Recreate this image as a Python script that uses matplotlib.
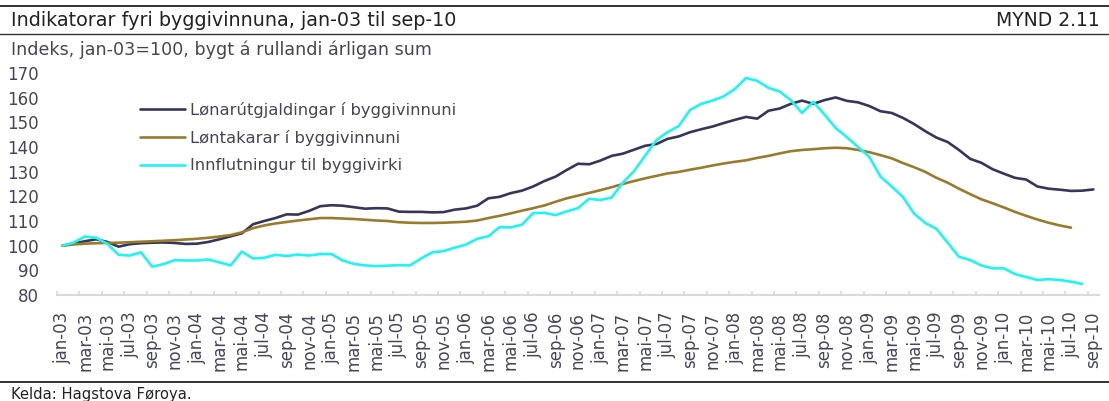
import matplotlib
matplotlib.use("Agg")
import matplotlib.pyplot as plt
from matplotlib.lines import Line2D

# month labels (faroese), jan-03 .. sep-10
month_names = ["jan", "feb", "mar", "apr", "mai", "jun", "jul", "aug", "sep", "okt", "nov", "des"]
years = ["03", "04", "05", "06", "07", "08", "09", "10"]
months = [m + "-" + y for y in years for m in month_names][:93]

# Lønarútgjaldingar í byggivinnuni (jan-03 .. sep-10)
lonarutgjaldingar = [
	100.0, 100.9, 101.8, 102.6, 101.5, 99.6, 100.6, 101.0, 101.2, 101.3, 101.1, 100.7,
	100.8, 101.5, 102.6, 103.8, 105.0, 108.7, 110.0, 111.2, 112.7, 112.6, 114.1, 116.0,
	116.4, 116.2, 115.6, 115.0, 115.2, 115.1, 113.8, 113.7, 113.7, 113.5, 113.6, 114.6,
	115.1, 116.2, 119.2, 119.8, 121.3, 122.3, 124.0, 126.2, 128.0, 130.7, 133.2, 133.0,
	134.5, 136.4, 137.3, 138.9, 140.5, 141.2, 143.3, 144.3, 146.0, 147.2, 148.3, 149.7,
	151.0, 152.2, 151.5, 154.7, 155.6, 157.5, 158.8, 157.5, 159.0, 160.1, 158.7, 158.1,
	156.6, 154.5, 153.8, 151.8, 149.3, 146.4, 143.8, 142.0, 138.8, 135.2, 133.6, 131.0,
	129.2, 127.5, 126.8, 124.0, 123.1, 122.7, 122.2, 122.3, 122.8]

# Løntakarar í byggivinnuni (jan-03 .. jul-10)
lontakarar = [
	100.0, 100.5, 100.8, 101.0, 101.1, 101.2, 101.4, 101.6, 101.8, 102.0, 102.2, 102.5,
	102.8, 103.2, 103.7, 104.3, 105.4, 107.1, 108.2, 109.0, 109.6, 110.2, 110.7, 111.2,
	111.2, 111.0, 110.8, 110.5, 110.2, 110.0, 109.5, 109.3, 109.2, 109.2, 109.3, 109.5,
	109.7, 110.2, 111.2, 112.1, 113.1, 114.2, 115.2, 116.3, 117.8, 119.2, 120.3, 121.4,
	122.5, 123.7, 125.0, 126.2, 127.3, 128.3, 129.3, 129.9, 130.8, 131.6, 132.5, 133.3,
	134.0, 134.6, 135.6, 136.4, 137.4, 138.3, 138.8, 139.1, 139.5, 139.7, 139.5, 138.8,
	137.9, 136.7, 135.4, 133.5, 131.8, 129.9, 127.5, 125.5, 123.1, 120.9, 118.8, 117.2,
	115.5, 113.7, 112.1, 110.6, 109.3, 108.2, 107.3]

# Innflutningur til byggivirki (jan-03 .. aug-10)
innflutningur = [
	100.0, 101.3, 103.7, 103.2, 100.7, 96.3, 96.0, 97.3, 91.5, 92.5, 94.1, 94.0,
	94.0, 94.4, 93.2, 92.0, 97.6, 94.8, 95.1, 96.3, 95.8, 96.4, 96.0, 96.6,
	96.6, 94.0, 92.6, 92.0, 91.7, 91.9, 92.1, 92.0, 94.8, 97.3, 97.8, 99.2,
	100.4, 102.8, 103.8, 107.5, 107.4, 108.5, 113.2, 113.3, 112.4, 113.9, 115.2, 119.0,
	118.5, 119.5, 125.5, 130.2, 136.5, 142.8, 146.0, 148.5, 155.0, 157.5, 158.8, 160.5,
	163.5, 168.0, 166.8, 164.0, 162.5, 159.0, 153.8, 158.3, 153.2, 147.7, 144.0, 140.0,
	136.0, 128.0, 124.0, 119.8, 113.0, 109.2, 106.8, 101.2, 95.5, 94.2, 92.0, 90.8,
	90.8, 88.5, 87.3, 86.1, 86.4, 86.1, 85.4, 84.5]

series = [
	("Lønarútgjaldingar í byggivinnuni", lonarutgjaldingar, "#35365a"),
	("Løntakarar í byggivinnuni", lontakarar, "#9a7b2c"),
	("Innflutningur til byggivirki", innflutningur, "#1ff4f4"),
]

W, H = 1109, 401
text_col = "#45455a"

fig = plt.figure(figsize=(W/100, H/100), dpi=100)
ax = fig.add_axes([57/W, 1-295/H, 1042/W, 222/H])

for label, vals, col in series:
	ax.plot(range(len(vals)), vals, color=col, lw=1.9, label=label, solid_capstyle="round")

ax.set_xlim(-0.5, len(months)-0.5)
ax.set_ylim(80, 170)
ax.set_yticks(range(80, 171, 10))
ax.tick_params(axis="y", length=0, pad=13, labelsize=12, labelcolor=text_col)

ax.set_xticks(range(0, len(months), 2))
ax.set_xticklabels(months[::2], rotation=90, va="top", ha="center")
ax.set_xticks([x - 0.5 for x in range(0, len(months), 2)], minor=True)
ax.tick_params(axis="x", which="major", length=0, pad=12, labelsize=12, labelcolor=text_col)
ax.tick_params(axis="x", which="minor", direction="in", length=3, width=1.2, color="#d9d9d9")

for s in ["top", "right", "left"]:
	ax.spines[s].set_visible(False)
ax.spines["bottom"].set_color("#d9d9d9")
ax.spines["bottom"].set_linewidth(1.5)

ax.legend(loc="upper left", bbox_to_anchor=(140/W, 1-102/H), bbox_transform=fig.transFigure,
	frameon=False, fontsize=11.8, handlelength=2.75, handletextpad=0.28, labelspacing=0.74,
	borderpad=0, borderaxespad=0, labelcolor=text_col)

# header / footer rules and texts
fig.add_artist(Line2D([0, 1], [1-6/H]*2, color="#222222", lw=1.3))
fig.add_artist(Line2D([0, 1], [1-34/H]*2, color="#333333", lw=1.0))
fig.add_artist(Line2D([0, 1], [1-382/H]*2, color="#222222", lw=1.3))

fig.text(11/W, 1-20/H, "Indikatorar fyri byggivinnuna, jan-03 til sep-10", fontsize=13.8,
	color="#222222", va="center", ha="left")
fig.text(1100/W, 1-20/H, "MYND 2.11", fontsize=13.5, color="#222222", va="center", ha="right")
fig.text(11/W, 1-50/H, "Indeks, jan-03=100, bygt á rullandi árligan sum", fontsize=12.6,
	color=text_col, va="center", ha="left")
fig.text(11/W, 1-395/H, "Kelda: Hagstova Føroya.", fontsize=10.6, color="#222222", va="center", ha="left")

fig.savefig("out.png", dpi=100)
